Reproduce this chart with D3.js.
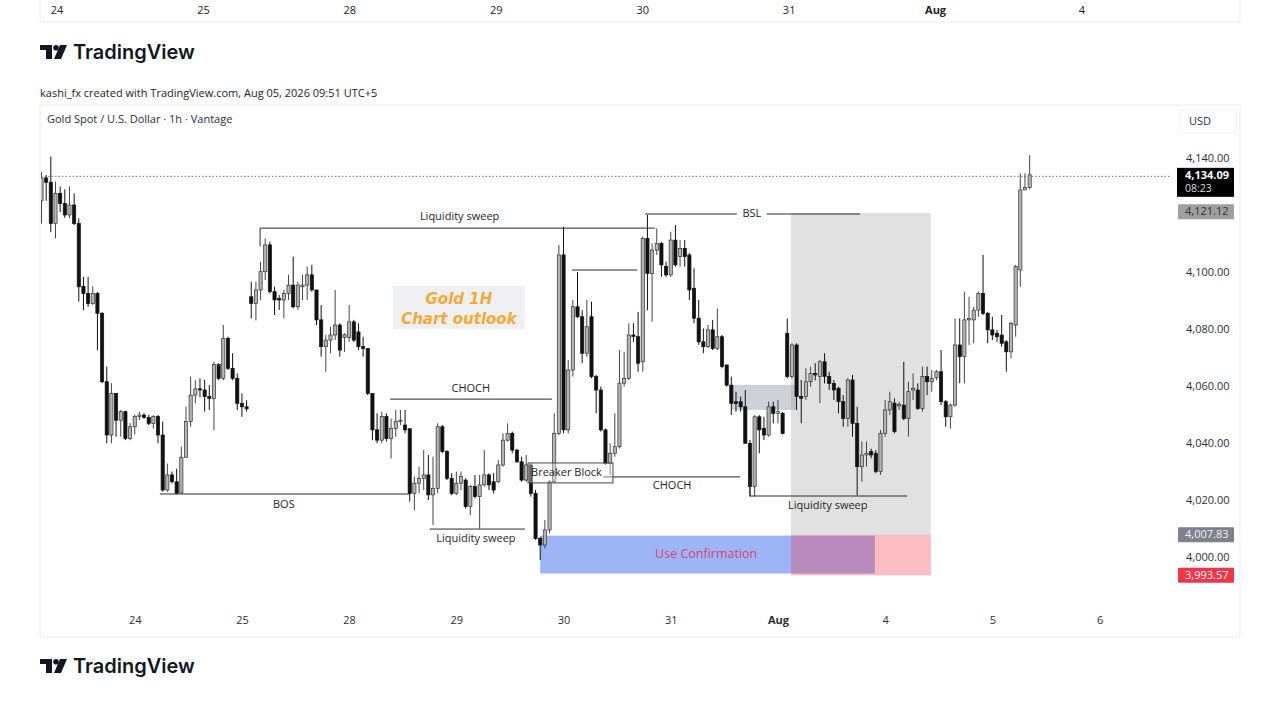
<!DOCTYPE html>
<html>
<head>
<meta charset="utf-8">
<script src="https://cdn.jsdelivr.net/npm/d3@7/dist/d3.min.js"></script>
<style>
  html, body { margin: 0; padding: 0; background: #fff; }
  svg { display: block; font-family: "Open Sans", "Liberation Sans", sans-serif; }
</style>
</head>
<body>
<svg id="chart" width="1280" height="720"></svg>
<script>
// hourly candles, [open, high, low, close], bar index = position in array
const ohlc = [
  [4125,4135,4117,4133],[4133,4134,4125,4131.5],[4131.5,4140.5,4114,4117],[4117,4131.7,4111.8,4127.6],
  [4127.6,4130,4121,4124],[4124,4129,4119,4120],[4120,4130,4118.8,4123.5],[4123.5,4127.6,4116.5,4117],
  [4117,4118.8,4089.6,4094.8],[4095,4098.3,4086.6,4092.5],[4092.5,4098.3,4087.8,4089],[4089,4095,4088.4,4092.5],
  [4092.5,4093,4072.6,4085.5],[4085.5,4086,4061,4061.5],[4061.5,4066.8,4039.9,4042.8],[4042.8,4061,4039.9,4057.4],
  [4057.4,4057.4,4042.2,4048],[4048,4051.6,4042.2,4051],[4051,4051.3,4041,4041.6],[4041.6,4047,4041,4045.7],
  [4045.7,4050,4043,4049.3],[4049.3,4051,4048,4049.8],[4049.8,4050.5,4048.5,4049],[4049,4049.8,4046.3,4046.9],
  [4046.9,4049.8,4045,4049.3],[4049.3,4049.8,4039.9,4042.8],[4042.8,4047.5,4022.9,4023.5],[4023.5,4032.8,4022.9,4028.8],
  [4028.8,4030,4025.8,4026.4],[4026.4,4031,4022.1,4022.3],[4022.5,4038.7,4022.3,4035],[4035,4052.7,4035,4047.5],
  [4047.5,4063.3,4045.7,4056.8],[4056.8,4062,4053.9,4059],[4059,4062.7,4056,4058.6],[4058.6,4062.1,4051,4056.3],
  [4056.3,4060.3,4051.6,4055.6],[4055.6,4068.5,4044.5,4067.5],[4067.5,4068,4062,4062.7],[4062.7,4081.4,4062,4076.7],
  [4076.7,4077.3,4065.6,4066.2],[4066.2,4071.5,4062,4062.7],[4062.7,4064.4,4051.6,4053.9],[4053.9,4057.4,4049.2,4052.7],
  [4052.7,4055,4051,4052],[4091.3,4096.6,4083.7,4089],[4089,4096.6,4083,4093.7],[4093.7,4103.6,4090.2,4100.1],
  [4100.1,4111.8,4097.2,4109.5],[4109.5,4110.6,4092.5,4093.1],[4093.1,4094.8,4084.9,4090.2],[4090.7,4091.9,4086.7,4090.2],
  [4090.2,4093.7,4083.7,4092.5],[4092.5,4099,4090.2,4095.4],[4095.4,4105.4,4087.2,4087.8],[4087.8,4096.6,4086.7,4095.4],
  [4094.8,4099,4090.2,4095.4],[4095.4,4101.9,4090.2,4099],[4099,4102.5,4093.1,4093.7],[4093.7,4093.7,4081.4,4083.2],
  [4083.2,4088.4,4070.3,4073.8],[4073.8,4077.9,4065,4076.1],[4076.1,4080.8,4071.5,4077.9],[4077.9,4093.7,4076.1,4081.4],
  [4081.4,4082,4070.3,4072.6],[4077,4078.5,4072,4078],[4077,4088.4,4075.5,4082.5],[4082.5,4083.2,4075.5,4076.1],
  [4079,4082,4072.6,4073.8],[4073.8,4077.3,4070.3,4073.2],[4073.2,4073.2,4056.8,4057.4],[4057.4,4057.4,4041,4044.6],
  [4044.6,4050.4,4039.9,4041],[4041,4051,4039.9,4049.3],[4049.3,4050.4,4040.5,4041.6],[4041.6,4048.6,4034.6,4045.1],
  [4045.1,4051.6,4042.2,4047.5],[4047.5,4051.6,4046.3,4048],[4046.3,4051.6,4043.4,4044.6],[4045,4045.2,4019.4,4022.3],
  [4022.3,4028.2,4016.5,4025.9],[4025.9,4031.7,4022.3,4027.6],[4027.6,4037.5,4023.5,4028.8],[4028.8,4035.8,4020,4021.8],
  [4021.8,4035.2,4011.2,4024.1],[4024.1,4046.9,4022.3,4045.7],[4045.7,4046.3,4036.4,4037],[4037,4037.5,4027,4027.6],
  [4027.6,4029.4,4021.7,4022.3],[4022.3,4030,4021.7,4025.9],[4025.9,4030,4023.5,4028.2],[4027,4027.6,4017,4017.7],
  [4017.7,4025.3,4014.7,4024.7],[4024.7,4028.8,4020.6,4021.2],[4021.2,4028.8,4010,4025.3],[4025.3,4037.5,4024.7,4028.8],
  [4028.8,4029.4,4023.5,4025.3],[4026.4,4029.4,4022.3,4023.5],[4026.4,4034,4025.9,4032.3],[4032.3,4043.4,4031.7,4041],
  [4041,4046.9,4040.5,4043.4],[4043.4,4044,4036.4,4037.5],[4037.5,4038,4033,4033.4],[4033.4,4035.2,4026.4,4027],
  [4027,4035.8,4026.4,4032.3],[4032.3,4032.8,4021.2,4022.3],[4022.3,4023.5,4006,4006.5],[4006.5,4007.1,3998.9,4004.2],
  [4004.2,4013,4003,4009.5],[4009.5,4027,4008.3,4026.4],[4026.4,4050.4,4025.9,4043.4],[4043.4,4109.5,4042.8,4106],
  [4106,4115.9,4043.4,4044.6],[4044.6,4069.1,4043.4,4065.6],[4065.6,4090.2,4063.3,4087.8],[4087.8,4100,4083.8,4084.3],
  [4084.3,4086.6,4068,4071.5],[4071.5,4090.2,4070.3,4080.8],[4084.3,4089.6,4062.7,4063.3],[4063.3,4063.9,4050.4,4058.6],
  [4058.6,4059.8,4044,4044.6],[4044.6,4045.1,4032.3,4032.8],[4032.8,4039.9,4028.8,4036.4],[4036.4,4050.4,4035.2,4038.7],
  [4038.7,4072.6,4038.1,4061],[4061,4072,4059.8,4062.7],[4062.7,4082,4062.1,4077.9],[4077.9,4082,4075.5,4077.3],
  [4077.3,4086,4065,4068],[4068.5,4112.4,4065,4111.8],[4111.8,4120,4086.6,4099.5],[4099.5,4110,4082.6,4107.7],
  [4107.7,4115.3,4106,4110],[4110,4110.6,4098.3,4102.5],[4102,4103.6,4098.3,4099],[4099,4114.1,4098.3,4111.2],
  [4111.2,4116.5,4101.9,4102.5],[4105.4,4111.2,4101.9,4108.3],[4108.3,4111.2,4101.9,4105.4],[4106,4106.6,4090.2,4093.7],
  [4094.3,4101.3,4082,4083.8],[4083.8,4090.2,4074.4,4075.5],[4075.5,4080.2,4071.5,4073.8],[4073.8,4081.4,4073.2,4079.7],
  [4079.7,4083.2,4072.6,4073.2],[4073.2,4087.2,4072.6,4077.3],[4077.3,4077.9,4066.2,4066.8],[4067.4,4067.4,4059.8,4060.3],
  [4060.3,4063.3,4049.8,4053.9],[4054.5,4058,4051,4053.9],[4054.5,4056.3,4051,4052.7],[4052.7,4058.6,4039.9,4039.9],
  [4039.9,4041,4021.2,4024.7],[4024.7,4049.8,4021.2,4049.2],[4049.2,4049.8,4036.4,4044.6],[4045.1,4049.2,4041,4042.8],
  [4042.8,4054.5,4042.2,4052.7],[4052.7,4054.5,4046.9,4050.4],[4050.4,4055,4046.9,4051],[4050.4,4050.9,4043,4043.4],
  [4078.5,4083.7,4062.7,4063.3],[4063.3,4075,4062.7,4074.4],[4074.4,4075,4051.6,4056.3],[4056.3,4062.1,4046.9,4055.7],
  [4056.3,4066.2,4055.1,4061.5],[4061.5,4066.8,4059.8,4064.4],[4064.4,4068,4062,4063.9],[4063.3,4069.1,4054,4068.5],
  [4068.5,4071.5,4060.9,4063.3],[4063.3,4065,4058.6,4060.9],[4060.9,4062.1,4055.1,4058.6],[4059.2,4059.8,4050.4,4054.5],
  [4054.5,4056.8,4045.7,4048.6],[4048.6,4062.7,4045.7,4062.1],[4062.1,4063.9,4042.2,4046.9],[4046.9,4052.7,4021.7,4031.7],
  [4031.7,4040.5,4026.4,4035.8],[4035.8,4040.5,4031.7,4036.4],[4037,4038,4034.6,4035.8],[4036.4,4037.5,4029.4,4030],
  [4030,4044.6,4028.8,4043.4],[4043.4,4055.1,4042.2,4051.6],[4051.6,4058,4049.8,4054.5],[4054,4055.7,4043.4,4044],
  [4053,4054.5,4051.6,4053.5],[4053.3,4068.5,4048,4048.6],[4048.6,4061.5,4042.2,4058],[4058.6,4064.4,4055.1,4059.2],
  [4058.6,4060.9,4051.6,4052.1],[4052.1,4066.8,4051,4063.3],[4063.3,4066.8,4056.8,4061.5],[4061.5,4065.6,4058,4062.7],
  [4063,4065.6,4062,4065],[4065,4072.6,4053.3,4054.5],[4054.5,4055.1,4045.7,4049.2],[4049.2,4053.9,4045.1,4053.3],
  [4053.3,4083.7,4052.7,4074.4],[4074.4,4083.7,4061,4070.3],[4070.3,4093.1,4060.9,4083.2],[4083.2,4091.3,4074.4,4083.7],
  [4083.2,4087.8,4075,4086.6],[4086.6,4093.1,4084.3,4092.5],[4092.5,4106,4084.9,4085.5],[4085.5,4086,4075,4079.7],
  [4079.7,4084.3,4076.1,4077.9],[4078.5,4079.7,4075.5,4077.3],[4077.9,4084.9,4073.8,4075],[4075.5,4076.1,4065,4072],
  [4072,4082.6,4069.7,4082],[4081.4,4102.5,4077.3,4101.9],[4100.7,4134.6,4094.8,4128.8],[4128.8,4134.6,4129,4129.6],
  [4129.6,4141,4129,4134.09]
];

// time axis: bar index where each day starts
const dayIndex  = [20, 43, 66, 89, 112, 135, 158, 181, 204, 227];
const dayLabels = ["24", "25", "28", "29", "30", "31", "Aug", "4", "5", "6"];
// strip of the previous screenshot at the top of the picture
const topLabels = ["24", "25", "28", "29", "30", "31", "Aug", "4"];

const priceTicks = [4000, 4020, 4040, 4060, 4080, 4100, 4140];
const lastPrice = 4134.09;

// price tags on the right scale
const priceTags = [
  { v: 4121.12, text: "4,121.12", fill: "#9f9f9f", color: "#333" },
  { v: 4007.83, text: "4,007.83", fill: "#7e818c", color: "#eef0f5" },
  { v: 3993.57, text: "3,993.57", fill: "#f23645", color: "#fff" }
];

// drawn levels: [from bar, to bar, price]
const levels = [
  { i0: 46.9, i1: 131.6, p: 4115.4 },   // liquidity sweep (top)
  { i0: 113.8, i1: 127.8, p: 4100.7 },
  { i0: 129.5, i1: 149.2, p: 4120.35 }, // BSL, left part
  { i0: 155.6, i1: 175.6, p: 4120.35 }, // BSL, right part
  { i0: 74.8, i1: 109.5, p: 4055.4 },   // CHOCH
  { i0: 25.4, i1: 79.1, p: 4022.1 },    // BOS
  { i0: 83.3, i1: 103.7, p: 4009.8 },   // liquidity sweep (low)
  { i0: 120.5, i1: 149.9, p: 4028.1 },  // CHOCH (second)
  { i0: 152.0, i1: 185.7, p: 4021.4 }   // liquidity sweep (right)
];

const levelLabels = [
  { i: 89.7, p: 4119.3, text: "Liquidity sweep" },
  { i: 152.4, p: 4120.35, text: "BSL" },
  { i: 92.1, p: 4058.9, text: "CHOCH" },
  { i: 52.0, p: 4018.2, text: "BOS" },
  { i: 93.2, p: 4006.3, text: "Liquidity sweep" },
  { i: 135.3, p: 4024.9, text: "CHOCH" },
  { i: 168.7, p: 4017.9, text: "Liquidity sweep" }
];

// zones: [from bar, to bar, top price, bottom price]
const zones = [
  { i0: 160.8, i1: 190.8, top: 4120.7, bottom: 4007.83, fill: "#e1e1e1" },
  { i0: 148.0, i1: 162.1, top: 4060.4, bottom: 4051.6, fill: "rgba(150,154,168,0.45)" },
  { i0: 107.0, i1: 178.8, top: 4007.5, bottom: 3994.2, fill: "#9db5f7" },
  { i0: 160.8, i1: 190.8, top: 4007.83, bottom: 3993.57, fill: "rgba(242,54,69,0.33)" }
];

const titleLines = ["Gold 1H", "Chart outlook"];

const svg = d3.select("#chart");

const x = d3.scaleLinear().domain([0, 242.5]).range([41.5, 41.5 + 242.5 * 4.661]);
const y = d3.scaleLinear().domain([4000, 4140]).range([557, 158]);
const xTop = d3.scaleLinear().domain([0, 7]).range([57, 1082]);

// ---- header / footer ----
function drawLogo(g, ox, oy) {
  g.append("path").attr("d", `M${ox},${oy} H${ox + 12} V${oy + 14} H${ox + 6} V${oy + 5} H${ox} Z`).attr("fill", "#131722");
  g.append("circle").attr("cx", ox + 16).attr("cy", oy + 2.8).attr("r", 2.8).attr("fill", "#131722");
  g.append("path").attr("d", `M${ox + 20},${oy} H${ox + 27} L${ox + 21},${oy + 14} H${ox + 14} Z`).attr("fill", "#131722");
  g.append("text").attr("x", ox + 33).attr("y", oy + 14)
    .style("font-family", "Inter, 'Open Sans', sans-serif")
    .style("font-size", "20px").style("font-weight", 600).attr("fill", "#131722")
    .text("TradingView");
}

const topStrip = svg.append("g");
topStrip.append("path").attr("d", "M40,-2 V22 H1240 V-2").attr("fill", "none").attr("stroke", "#ececec");
topStrip.selectAll("text").data(topLabels).join("text")
  .attr("x", (d, k) => xTop(k)).attr("y", 11)
  .attr("text-anchor", "middle").attr("dominant-baseline", "middle")
  .style("font-size", "11px").style("font-weight", d => d === "Aug" ? 700 : 400)
  .attr("fill", "#222").text(d => d);

drawLogo(svg.append("g"), 40, 45);
svg.append("text").attr("x", 40).attr("y", 97)
  .style("font-size", "11px").attr("fill", "#222")
  .text("kashi_fx created with TradingView.com, Aug 05, 2026 09:51 UTC+5");
drawLogo(svg.append("g"), 40, 659);

// ---- chart frame ----
svg.append("rect").attr("x", 40).attr("y", 105).attr("width", 1200).attr("height", 532)
  .attr("fill", "#fff").attr("stroke", "#ebebeb");

svg.append("text").attr("x", 47).attr("y", 123)
  .style("font-size", "11px").attr("fill", "#2a2e39")
  .text("Gold Spot / U.S. Dollar \u00b7 1h \u00b7 Vantage");

svg.append("defs").append("clipPath").attr("id", "plot")
  .append("rect").attr("x", 41).attr("y", 106).attr("width", 1130).attr("height", 500);

const plot = svg.append("g").attr("clip-path", "url(#plot)");

// zones
plot.append("g").selectAll("rect").data(zones).join("rect")
  .attr("x", d => x(d.i0)).attr("width", d => x(d.i1) - x(d.i0))
  .attr("y", d => y(d.top)).attr("height", d => y(d.bottom) - y(d.top))
  .attr("fill", d => d.fill);

// last price dotted line
plot.append("line")
  .attr("x1", 41).attr("x2", 1171).attr("y1", y(lastPrice) + 1.5).attr("y2", y(lastPrice) + 1.5)
  .attr("stroke", "#777").attr("stroke-dasharray", "1.5,2").attr("stroke-width", 1);

// candles
const candles = plot.append("g").selectAll("g").data(ohlc).join("g");
candles.append("line")
  .attr("x1", (d, i) => x(i)).attr("x2", (d, i) => x(i))
  .attr("y1", d => y(d[1])).attr("y2", d => y(d[2]))
  .attr("stroke", d => d[3] >= d[0] ? "#444" : "#111").attr("stroke-width", 1);
candles.append("rect")
  .attr("x", (d, i) => x(i) - 1.6).attr("width", 3.2)
  .attr("y", d => y(Math.max(d[0], d[3])))
  .attr("height", d => Math.max(1, Math.abs(y(d[0]) - y(d[3]))))
  .attr("fill", d => d[3] >= d[0] ? "#b4b4b4" : "#111")
  .attr("stroke", d => d[3] >= d[0] ? "#333" : "#111").attr("stroke-width", 0.7);

// levels
plot.append("g").selectAll("line").data(levels).join("line")
  .attr("x1", d => x(d.i0)).attr("x2", d => x(d.i1))
  .attr("y1", d => y(d.p)).attr("y2", d => y(d.p))
  .attr("stroke", "#2a2a2a").attr("stroke-width", 1);
// small ticks at the ends of two sweep lines
plot.append("line").attr("x1", x(46.9)).attr("x2", x(46.9)).attr("y1", y(4115.4)).attr("y2", y(4109))
  .attr("stroke", "#2a2a2a");
plot.append("line").attr("x1", x(152.0)).attr("x2", x(152.0)).attr("y1", y(4021.4)).attr("y2", y(4027.5))
  .attr("stroke", "#2a2a2a");

plot.append("g").selectAll("text").data(levelLabels).join("text")
  .attr("x", d => x(d.i)).attr("y", d => y(d.p))
  .attr("text-anchor", "middle").attr("dominant-baseline", "middle")
  .style("font-size", "11px").attr("fill", "#1e1e1e").text(d => d.text);

// breaker block
plot.append("rect")
  .attr("x", x(104.4)).attr("width", x(122.6) - x(104.4))
  .attr("y", y(4033)).attr("height", y(4026) - y(4033))
  .attr("fill", "rgba(255,255,255,0.35)").attr("stroke", "#444").attr("stroke-width", 1);
plot.append("text").attr("x", x(104.4) + 3).attr("y", y(4029.6))
  .attr("dominant-baseline", "middle").style("font-size", "11px").attr("fill", "#1e1e1e")
  .text("Breaker Block");

// use confirmation
plot.append("text").attr("x", x(142.6)).attr("y", y(4000.7))
  .attr("text-anchor", "middle").attr("dominant-baseline", "middle")
  .style("font-size", "12.5px").attr("fill", "#d8436f").text("Use Confirmation");

// title box
const tb = plot.append("g");
tb.append("rect").attr("x", x(75.4)).attr("width", x(103.7) - x(75.4))
  .attr("y", y(4095.1)).attr("height", y(4080) - y(4095.1)).attr("fill", "#eef0f3");
tb.selectAll("text").data(titleLines).join("text")
  .attr("x", x(89.55)).attr("y", (d, k) => y(4090.5 - k * 7))
  .attr("text-anchor", "middle").attr("dominant-baseline", "middle")
  .style("font-family", "'DejaVu Sans', sans-serif")
  .style("font-size", "15px").style("font-weight", 700).style("font-style", "italic")
  .attr("fill", "#f6a935").text(d => d);

// ---- axes ----
const yAxis = svg.append("g").attr("transform", "translate(1186,0)")
  .call(d3.axisRight(y).tickValues(priceTicks).tickSize(0).tickPadding(0).tickFormat(d3.format(",.2f")));
yAxis.select(".domain").remove();
yAxis.selectAll("text").style("font-size", "11px").style("font-family", "'Open Sans', sans-serif").attr("fill", "#2a2e39");

const xAxis = svg.append("g").attr("transform", "translate(0,616)")
  .call(d3.axisBottom(x).tickValues(dayIndex).tickSize(0).tickPadding(0)
    .tickFormat((d, k) => dayLabels[k]));
xAxis.select(".domain").remove();
xAxis.selectAll("text").style("font-size", "11px").style("font-family", "'Open Sans', sans-serif")
  .style("font-weight", (d, k) => dayLabels[k] === "Aug" ? 700 : 400).attr("fill", "#2a2e39");

// USD button
svg.append("rect").attr("x", 1180).attr("y", 110).attr("width", 56).attr("height", 23).attr("rx", 3)
  .attr("fill", "#fff").attr("stroke", "#eceef2");
svg.append("text").attr("x", 1189).attr("y", 122).attr("dominant-baseline", "middle")
  .style("font-size", "11px").attr("fill", "#2a2e39").text("USD");

// price tags
const tags = svg.append("g").selectAll("g").data(priceTags).join("g");
tags.append("rect").attr("x", 1178).attr("width", 56)
  .attr("y", d => y(d.v) - 7.5).attr("height", 15).attr("rx", 1).attr("fill", d => d.fill);
tags.append("text").attr("x", 1185).attr("y", d => y(d.v) + 0.5).attr("dominant-baseline", "middle")
  .style("font-size", "11px").attr("fill", d => d.color).text(d => d.text);

const last = svg.append("g");
last.append("rect").attr("x", 1177).attr("y", y(lastPrice) - 7).attr("width", 57).attr("height", 29).attr("fill", "#000");
last.append("text").attr("x", 1185).attr("y", y(lastPrice) + 1.5).attr("dominant-baseline", "middle")
  .style("font-size", "11px").style("font-weight", 700).attr("fill", "#fff").text(d3.format(",.2f")(lastPrice));
last.append("text").attr("x", 1185).attr("y", y(lastPrice) + 14).attr("dominant-baseline", "middle")
  .style("font-size", "10.5px").attr("fill", "#ddd").text("08:23");
</script>
</body>
</html>
